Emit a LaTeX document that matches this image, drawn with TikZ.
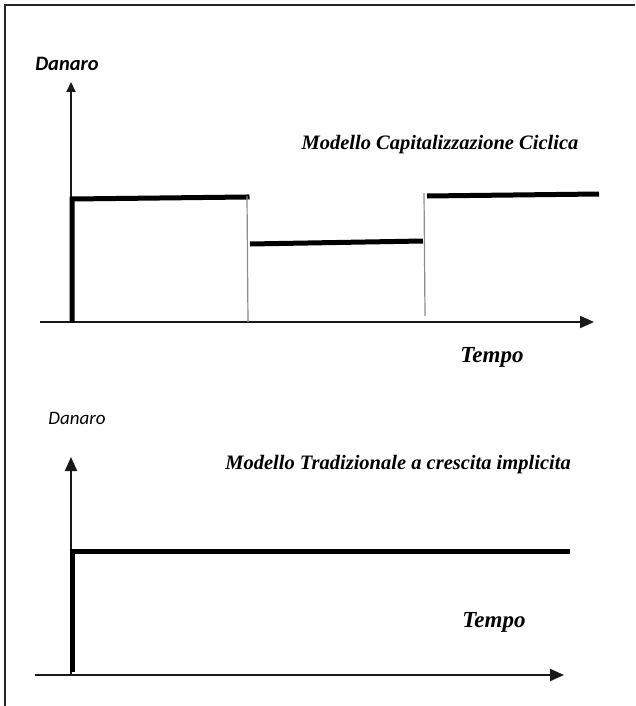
\documentclass[tikz,border=0pt]{standalone}
\usepackage{fontspec}
\setmainfont{Liberation Serif}
\newfontfamily\lblfont{Carlito}
\usetikzlibrary{arrows.meta}
\begin{document}
\begin{tikzpicture}[x=1pt,y=-1pt,
  axisline/.style={line width=2pt,draw=black!90,-{Triangle[length=14pt,width=12pt]}},
  axissmall/.style={line width=2pt,draw=black!90,-{Triangle[length=10pt,width=9pt]}},
  level/.style={line width=5pt,line join=miter,line cap=rect},
  stepline/.style={line width=1.2pt,draw=black!45},
  title/.style={font=\fontsize{20.5}{24}\selectfont\bfseries\itshape,inner sep=0pt},
  tempo/.style={font=\fontsize{23}{27}\selectfont\bfseries\itshape,inner sep=0pt},
  danarob/.style={font=\lblfont\fontsize{20.5}{24}\selectfont\bfseries\itshape,inner sep=0pt},
  danaro/.style={font=\lblfont\fontsize{19}{22}\selectfont\itshape,inner sep=0pt}
]
\useasboundingbox (0,0) rectangle (635,706);
\draw[line width=2pt,draw=black!85] (5,706) -- (5,5) -- (635,5);

% ---------- top chart ----------
\coordinate (o1) at (40,322);
\coordinate (x1) at (594,322);
\coordinate (yb1) at (71,322);
\coordinate (yt1) at (71,82);
\draw[axisline] (o1) -- (x1);
\draw[axissmall] (yb1) -- (yt1);

\coordinate (a0) at (72,320);
\coordinate (a1) at (72,199);
\coordinate (a2) at (247,197);
\coordinate (b1) at (250,244);
\coordinate (b2) at (423,241);
\coordinate (c1) at (427,196);
\coordinate (c2) at (599,194);
\draw[level] (a0) -- (a1) -- (a2);
\draw[level,line cap=butt] (b1) -- (b2);
\draw[level,line cap=butt] (c1) -- (c2);
\coordinate (g1t) at (247,196);
\coordinate (g1b) at (248,322);
\coordinate (g2t) at (424,193);
\coordinate (g2b) at (425,316);
\draw[stepline] (g1t) -- (g1b);
\draw[stepline] (g2t) -- (g2b);

\node[danarob] (d1) at (67,64) {Danaro};
\node[title] (t1) at (440,145) {Modello Capitalizzazione Ciclica};
\node[tempo] (tp1) at (492,357) {Tempo};

% ---------- bottom chart ----------
\coordinate (o2) at (35,675);
\coordinate (x2) at (564,675);
\coordinate (yb2) at (71,675);
\coordinate (yt2) at (71,457);
\draw[axisline] (o2) -- (x2);
\draw[axisline] (yb2) -- (yt2);

\coordinate (p0) at (72,672);
\coordinate (p1) at (72,551);
\coordinate (p2) at (570,551);
\draw[level,line cap=butt] (p0) -- (p1) -- (p2);

\node[danaro] (d2) at (77,418) {Danaro};
\node[title] (t2) at (398,465) {Modello Tradizionale a crescita implicita};
\node[tempo] (tp2) at (494,622) {Tempo};
\end{tikzpicture}
\end{document}
